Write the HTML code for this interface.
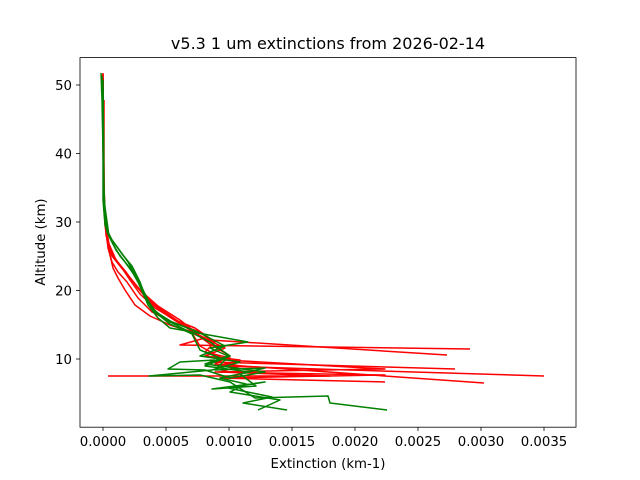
<!DOCTYPE html>
<html><head><style>body{margin:0;background:#fff}svg{display:block}</style></head><body>
<svg width="640" height="480" xmlns="http://www.w3.org/2000/svg" font-family="DejaVu Sans, Liberation Sans, sans-serif">
<rect width="640" height="480" fill="#fff"/>
<g fill="none" stroke-width="1.5" stroke-linejoin="round">
<g stroke="#ff0000">
<polyline points="103,73 103,110 103,150 104,200 105,225 107,240 110,255 113,268 118,278 125,290 135,305 150,316 170,325 195,333 205,338 180,345 470,349"/>
<polyline points="102,75 103,120 104,200 106,230 108,248 112,262 118,272 127,282 138,298 152,312 172,322 200,332 210,340 447,355"/>
<polyline points="103,80 104,180 105,220 109,244 115,258 122,268 130,280 140,294 155,308 175,320 195,328 215,342 205,352 230,358 210,362 455,369"/>
<polyline points="103,74 104,190 106,235 110,250 117,262 128,276 140,290 158,306 180,320 200,336 225,348 205,356 240,360 220,366 544,376"/>
<polyline points="103,78 104,200 107,240 112,256 120,266 132,280 145,296 162,310 185,326 210,344 230,356 215,364 484,383"/>
<polyline points="104,100 104,210 108,242 116,260 126,272 136,286 150,302 168,316 190,330 200,346 225,360 385,369 215,372 385,375 220,378 385,382"/>
<polyline points="108,376 330,376 220,372 240,366 210,360"/>
</g>
<g stroke="#008000">
<polyline points="101,73 102,100 103,150 103,200 105,225 110,238 116,250 125,262 135,276 142,290 148,305 158,318 170,328 248,342 210,348 228,356 205,364 265,372 230,378 205,370 168,369 180,362 215,360"/>
<polyline points="102,76 103,140 104,200 107,232 113,244 120,256 130,268 138,282 145,298 155,312 170,324 192,334 200,350 225,360 215,370 265,368 240,374 256,386 212,389 265,382 228,388 272,397 243,403 287,410"/>
<polyline points="103,80 104,190 106,228 112,240 122,254 132,266 140,282 146,298 156,312 172,322 198,332 225,346 200,356 240,362 212,370 149,376 200,375 230,382 255,398 328,396 330,403 387,410"/>
<polyline points="103,90 104,200 109,236 118,248 128,262 136,276 144,292 152,308 166,320 186,330 210,342 230,356 205,366 250,372 220,378 246,384 230,392 280,400 258,410"/>
</g>
</g>
<rect x="80" y="57.6" width="496" height="369.6" fill="none" stroke="#000" stroke-width="0.8"/>
<g stroke="#000" stroke-width="0.8">
<line x1="103" y1="427" x2="103" y2="431"/><line x1="166" y1="427" x2="166" y2="431"/><line x1="229" y1="427" x2="229" y2="431"/><line x1="292" y1="427" x2="292" y2="431"/><line x1="355" y1="427" x2="355" y2="431"/><line x1="418" y1="427" x2="418" y2="431"/><line x1="481" y1="427" x2="481" y2="431"/><line x1="544" y1="427" x2="544" y2="431"/>
<line x1="76" y1="359" x2="80" y2="359"/><line x1="76" y1="290.5" x2="80" y2="290.5"/><line x1="76" y1="222" x2="80" y2="222"/><line x1="76" y1="153.5" x2="80" y2="153.5"/><line x1="76" y1="85" x2="80" y2="85"/>
</g>
<g font-size="13.3" fill="#000" text-anchor="middle">
<text x="103" y="446">0.0000</text><text x="166" y="446">0.0005</text><text x="229" y="446">0.0010</text><text x="292" y="446">0.0015</text><text x="355" y="446">0.0020</text><text x="418" y="446">0.0025</text><text x="481" y="446">0.0030</text><text x="544" y="446">0.0035</text>
</g>
<g font-size="13.3" fill="#000" text-anchor="end">
<text x="72" y="364">10</text><text x="72" y="295.5">20</text><text x="72" y="227">30</text><text x="72" y="158.5">40</text><text x="72" y="90">50</text>
</g>
<text x="328" y="468" font-size="13.3" text-anchor="middle">Extinction (km-1)</text>
<text x="45" y="242" font-size="13.3" text-anchor="middle" transform="rotate(-90 45 242)">Altitude (km)</text>
<text x="328" y="49" font-size="16" text-anchor="middle">v5.3 1 um extinctions from 2026-02-14</text>
</svg>
</body></html>
